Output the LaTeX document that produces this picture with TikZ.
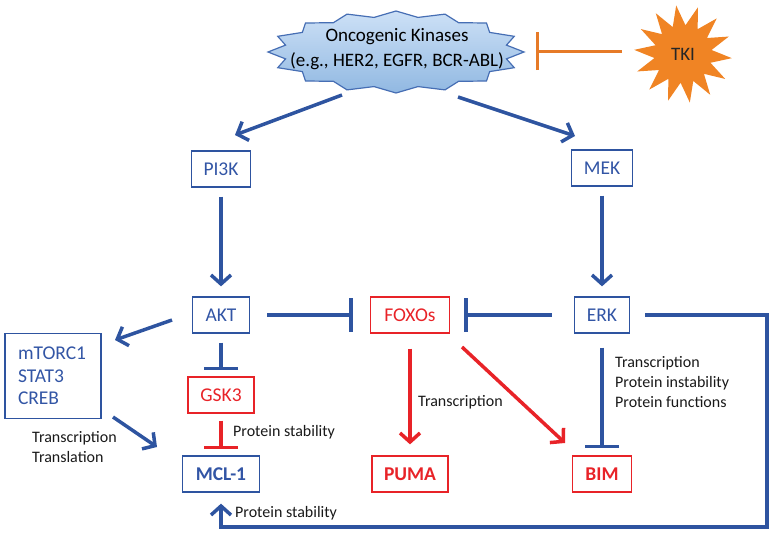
\documentclass[tikz,border=0pt]{standalone}
\usepackage{fontspec}
\setmainfont{Carlito}
\usetikzlibrary{arrows.meta,shapes.geometric}
\definecolor{blueC}{RGB}{46,84,160}
\definecolor{txtB}{RGB}{50,85,165}
\definecolor{redC}{RGB}{232,35,40}
\definecolor{orC}{RGB}{230,122,40}
\definecolor{tkiC}{RGB}{240,132,36}
\definecolor{kinTop}{RGB}{205,225,246}
\definecolor{kinBot}{RGB}{145,184,226}
\definecolor{kinLine}{RGB}{70,110,180}
\definecolor{lblC}{RGB}{25,25,25}
\begin{document}
\begin{tikzpicture}[x=1pt,y=-1pt,
 box/.style={draw=blueC, line width=1.3pt, text=txtB, font=\fontsize{19.5}{22}\selectfont, minimum height=36pt, inner sep=0pt},
 rbox/.style={box, draw=redC, text=redC},
 lbl/.style={font=\fontsize{16}{20}\selectfont, text=lblC, align=left, anchor=west, inner sep=0pt},
 bl/.style={draw=blueC, line width=3.5pt},
 rl/.style={draw=redC, line width=3.5pt},
 act/.style={-{Straight Barb[length=9pt,width=20pt]}},
 inh/.style={-{Bar[width=34pt]}},
 kinstar/.style={draw=kinLine, line width=1.2pt, top color=kinTop, bottom color=kinBot, line join=miter},
]
\useasboundingbox (0,0) rectangle (779,541);

% oncogenic kinases star
\path[kinstar] (524,52) \foreach \i in {1,...,31}{ -- ({396+128*(1-0.12*mod(\i,2))*cos(\i*11.25)},{52+41*(1-0.14*mod(\i,2))*sin(\i*11.25)}) } -- cycle;
\node[font=\fontsize{19}{25}\selectfont, align=center, inner sep=0pt] (kin) at (397,49) {Oncogenic Kinases\\(e.g., HER2, EGFR, BCR-ABL)};

% TKI
\node[star, star points=14, star point ratio=1.7, minimum size=98pt, fill=tkiC, inner sep=0pt, shape border rotate=8, font=\fontsize{19}{22}\selectfont, text=black!85] (tki) at (683,54) {TKI};

% boxes
\node[box, minimum width=59pt] (pi3k) at (221,169) {PI3K};
\node[box, minimum width=61pt] (mek) at (602,168) {MEK};
\node[box, minimum width=57pt] (akt) at (221,315) {AKT};
\node[rbox, minimum width=79pt] (foxo) at (410,315) {FOXOs};
\node[box, minimum width=55pt] (erk) at (602,315) {ERK};
\node[box, font=\fontsize{19.5}{22.5}\selectfont, text width=70pt, align=left, inner xsep=13pt, minimum height=85pt] (mtor) at (53,376) {mTORC1\\STAT3\\CREB};
\node[rbox, minimum width=66pt] (gsk) at (221,395) {GSK3};
\node[box, minimum width=77pt] (mcl) at (221,474) {\textbf{MCL-1}};
\node[rbox, minimum width=76pt] (puma) at (410,474) {\textbf{PUMA}};
\node[rbox, minimum width=59pt] (bim) at (602,474) {\textbf{BIM}};

% helper coordinates
\coordinate (kinL) at (342,95);
\coordinate (kinR) at (458,97);
\coordinate (pi3kIn) at (235,135);
\coordinate (mekIn) at (575,136);
\coordinate (tkiL) at (622,51);
\coordinate (kinBar) at (536,51);
\coordinate (aktOut) at (172,320);
\coordinate (mtorIn) at (115,340);
\coordinate (mtorOut) at (113,417);
\coordinate (mclIn) at (157,447);
\coordinate (foxoOut) at (462,347);
\coordinate (bimIn) at (565,443);
\coordinate (fbR) at (767,527);

% connectors
\draw[draw=orC, line width=3pt, -{Bar[width=38pt]}] (tkiL) -- (kinBar);
\draw[bl,act] (kinL) -- (pi3kIn);
\draw[bl,act] (kinR) -- (mekIn);
\draw[bl,act,shorten <=9pt,shorten >=10pt] (pi3k) -- (akt);
\draw[bl,act,shorten <=9pt,shorten >=10pt] (mek) -- (erk);
\draw[bl,inh,shorten <=17pt,shorten >=17pt] (akt) -- (foxo);
\draw[bl,inh,shorten <=22pt,shorten >=14pt] (erk) -- (foxo);
\draw[bl,act] (aktOut) -- (mtorIn);
\draw[bl,act] (mtorOut) -- (mclIn);
\draw[bl,inh,shorten <=9pt,shorten >=6pt] (akt) -- (gsk);
\draw[rl,inh,shorten <=7pt,shorten >=6pt] (gsk) -- (mcl);
\draw[rl,act,shorten <=15pt,shorten >=11pt] (foxo) -- (puma);
\draw[rl,act] (foxoOut) -- (bimIn);
\draw[bl,inh,shorten <=14pt,shorten >=7pt] (erk) -- (bim);
\draw[bl,act,line join=miter] ([xshift=15pt]erk.east) -| (fbR) -| ([yshift=-11pt]mcl.south);

% labels
\node[lbl] (l1) at (233,432) {Protein stability};
\node[lbl] (l2) at (32,447) {Transcription\\Translation};
\node[lbl] (l3) at (235,513) {Protein stability};
\node[lbl] (l4) at (418,402) {Transcription};
\node[lbl] (l5) at (615,382) {Transcription\\Protein instability\\Protein functions};
\end{tikzpicture}
\end{document}
